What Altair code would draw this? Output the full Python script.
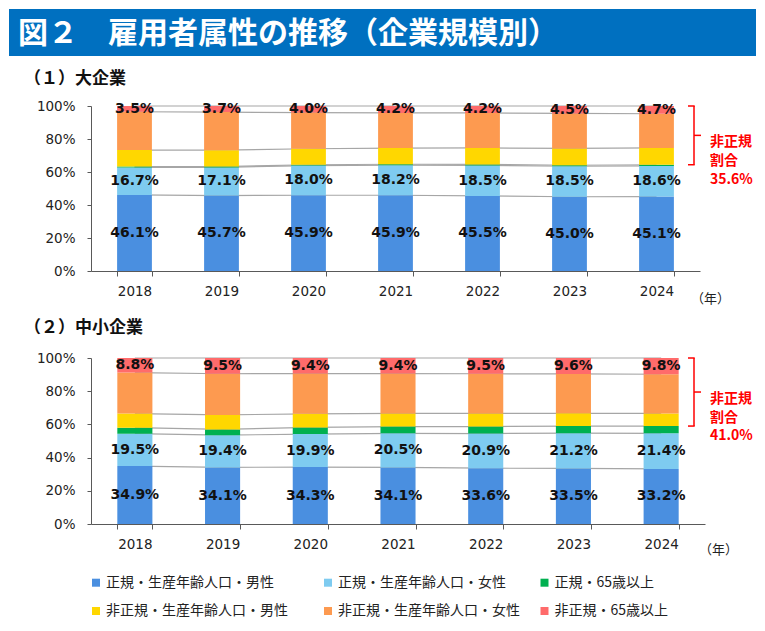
import altair as alt
import pandas as pd

TITLE = "図２　雇用者属性の推移（企業規模別）"
PANEL_TITLES = ["（１）大企業", "（２）中小企業"]
YEAR_UNIT = "（年）"
BRACKET_TEXT = "非正規\n割合"
YEARS = ["2018", "2019", "2020", "2021", "2022", "2023", "2024"]
CATEGORIES = [
    "正規・生産年齢人口・男性",
    "正規・生産年齢人口・女性",
    "正規・65歳以上",
    "非正規・生産年齢人口・男性",
    "非正規・生産年齢人口・女性",
    "非正規・65歳以上",
]
COLORS = ["#4a8fe0", "#7ecbf0", "#00b050", "#ffd700", "#fd9a50", "#ff6b6b"]
LABELED = [CATEGORIES[0], CATEGORIES[1], CATEGORIES[5]]

# (1) 大企業
LARGE_REG_MALE = [46.1, 45.7, 45.9, 45.9, 45.5, 45.0, 45.1]
LARGE_REG_FEMALE = [16.7, 17.1, 18.0, 18.2, 18.5, 18.5, 18.6]
LARGE_REG_65 = [0.5, 0.5, 0.5, 0.6, 0.6, 0.6, 0.7]
LARGE_NONREG_MALE = [10.0, 9.9, 9.7, 9.8, 10.0, 10.2, 10.2]
LARGE_NONREG_FEMALE = [23.2, 23.1, 21.9, 21.3, 21.2, 21.2, 20.7]
LARGE_NONREG_65 = [3.5, 3.7, 4.0, 4.2, 4.2, 4.5, 4.7]
LARGE_NONREG_SHARE = 35.6

# (2) 中小企業
SME_REG_MALE = [34.9, 34.1, 34.3, 34.1, 33.6, 33.5, 33.2]
SME_REG_FEMALE = [19.5, 19.4, 19.9, 20.5, 20.9, 21.2, 21.4]
SME_REG_65 = [3.6, 3.5, 4.0, 4.1, 4.2, 4.3, 4.4]
SME_NONREG_MALE = [8.5, 8.7, 8.2, 7.9, 7.9, 7.7, 7.6]
SME_NONREG_FEMALE = [24.7, 24.8, 24.2, 24.0, 23.9, 23.7, 23.6]
SME_NONREG_65 = [8.8, 9.5, 9.4, 9.4, 9.5, 9.6, 9.8]
SME_NONREG_SHARE = 41.0

RED = "#ff0000"
AXIS_COLOR = "#595959"
JP_FONT = "Noto Sans CJK JP"
NUM_FONT = "DejaVu Sans"


def build_df(series):
    rows = []
    for yi, year in enumerate(YEARS):
        cum = 0.0
        for ci, cat in enumerate(CATEGORIES):
            v = series[ci][yi]
            rows.append({
                "year": year, "category": cat, "order": ci, "value": v,
                "start": cum, "end": cum + v, "mid": cum + v / 2,
                "label": f"{v:.1f}%",
            })
            cum += v
    return pd.DataFrame(rows)


def y_enc(field):
    return alt.Y(
        field,
        scale=alt.Scale(domain=[0, 100], nice=False),
        axis=alt.Axis(
            title=None, values=[0, 20, 40, 60, 80, 100],
            labelExpr="datum.value + '%'", grid=False,
            tickSize=4, labelPadding=12, labelFont=NUM_FONT, labelFontSize=13.5,
            labelColor="#222", domainColor=AXIS_COLOR, tickColor=AXIS_COLOR,
        ),
    )


def x_enc():
    return alt.X(
        "year:N", sort=YEARS,
        scale=alt.Scale(paddingInner=0.6, paddingOuter=0.3),
        axis=alt.Axis(
            title=None, labelAngle=0, tickBand="extent", tickSize=5,
            labelPadding=8, labelFont=NUM_FONT, labelFontSize=13.5,
            labelColor="#222", domainColor=AXIS_COLOR, tickColor=AXIS_COLOR,
        ),
    )


color_enc = alt.Color(
    "category:N", scale=alt.Scale(domain=CATEGORIES, range=COLORS), legend=None
)


def panel(series, share, width, height, unit_x, unit_y):
    df = build_df(series)
    base = alt.Chart(df)
    lines = base.mark_line(color="#a6a6a6", strokeWidth=1.2).encode(
        x=x_enc(), y=y_enc("end:Q"), detail="category:N"
    )
    bars = base.mark_bar().encode(
        x=x_enc(), y=y_enc("start:Q"), y2="end:Q", color=color_enc,
        order=alt.Order("order:Q"),
    )
    labels = base.transform_filter(
        alt.FieldOneOfPredicate(field="category", oneOf=LABELED)
    ).mark_text(
        font=NUM_FONT, fontSize=14, fontWeight="bold", color="#111",
        baseline="middle",
    ).encode(x=x_enc(), y=y_enc("mid:Q"), text="label:N")

    bdf = pd.DataFrame({
        "top": [100.0], "bottom": [100.0 - share],
        "mid": [100.0 - share / 2],
        "text": [BRACKET_TEXT + f"\n{share:.1f}%"],
    })
    bb = alt.Chart(bdf)
    vline = bb.mark_rule(color=RED, strokeWidth=1.5).encode(
        x=alt.value(603), y=y_enc("top:Q"), y2="bottom:Q")
    topline = bb.mark_rule(color=RED, strokeWidth=1.5).encode(
        x=alt.value(597), x2=alt.value(603.7), y=y_enc("top:Q"))
    botline = bb.mark_rule(color=RED, strokeWidth=1.5).encode(
        x=alt.value(597), x2=alt.value(603.7), y=y_enc("bottom:Q"))
    midline = bb.mark_rule(color=RED, strokeWidth=1.5).encode(
        x=alt.value(603), x2=alt.value(610), y=y_enc("mid:Q"))
    btext = bb.mark_text(
        align="left", baseline="middle", lineBreak="\n", lineHeight=18.7,
        dy=7, font=JP_FONT, fontSize=14, fontWeight="bold", color=RED,
    ).encode(x=alt.value(619), y=y_enc("mid:Q"), text="text:N")

    unit = alt.Chart(pd.DataFrame({"u": [YEAR_UNIT]})).mark_text(
        align="left", baseline="middle", font=JP_FONT, fontSize=13, color="#222"
    ).encode(x=alt.value(unit_x), y=alt.value(unit_y), text="u:N")

    return alt.layer(
        lines, bars, labels, vline, topline, botline, midline, btext, unit
    ).properties(width=width, height=height)


header_df = pd.DataFrame({"title": [TITLE], "sub": [PANEL_TITLES[0]]})
hb = alt.Chart(header_df)
banner = hb.mark_rect(color="#0070c0").encode(
    x=alt.value(-82), x2=alt.value(665), y=alt.value(0), y2=alt.value(47))
title_text = hb.mark_text(
    align="left", baseline="middle", font=JP_FONT, fontSize=30,
    fontWeight="bold", color="white",
).encode(x=alt.value(-73), y=alt.value(25), text="title:N")
sub1 = hb.mark_text(
    align="left", baseline="middle", font=JP_FONT, fontSize=17,
    fontWeight="bold", color="#111",
).encode(x=alt.value(-67), y=alt.value(70), text="sub:N")
header = alt.layer(banner, title_text, sub1).properties(width=609, height=97)

spacer = alt.Chart(pd.DataFrame({"sub": [PANEL_TITLES[1]]})).mark_text(
    align="left", baseline="middle", font=JP_FONT, fontSize=17,
    fontWeight="bold", color="#111",
).encode(x=alt.value(-67), y=alt.value(57), text="sub:N").properties(
    width=609, height=87)

p1 = panel(
    [LARGE_REG_MALE, LARGE_REG_FEMALE, LARGE_REG_65,
     LARGE_NONREG_MALE, LARGE_NONREG_FEMALE, LARGE_NONREG_65],
    LARGE_NONREG_SHARE, 609, 165, 600, 193)
p2 = panel(
    [SME_REG_MALE, SME_REG_FEMALE, SME_REG_65,
     SME_NONREG_MALE, SME_NONREG_FEMALE, SME_NONREG_65],
    SME_NONREG_SHARE, 614, 166, 608, 192)

leg_df = pd.DataFrame({
    "category": CATEGORIES,
    "col": [i % 3 for i in range(len(CATEGORIES))],
    "row": [i // 3 for i in range(len(CATEGORIES))],
})
lx = alt.X("col:Q", scale=alt.Scale(domain=[0, 1, 2], range=[5, 237, 453.5],
                                    nice=False, zero=False), axis=None)
ly = alt.Y("row:Q", scale=alt.Scale(domain=[0, 1], range=[58.7, 87],
                                    nice=False, zero=False), axis=None)
lb = alt.Chart(leg_df)
leg_sq = lb.mark_square(size=64, opacity=1).encode(x=lx, y=ly, color=color_enc)
leg_tx = lb.mark_text(
    align="left", baseline="middle", dx=10, font=JP_FONT, fontSize=14,
    color="#222",
).encode(x=lx, y=ly, text="category:N")
legend = alt.layer(leg_sq, leg_tx).properties(width=609, height=100)

chart = alt.vconcat(
    header, p1, spacer, p2, legend, spacing=0, bounds="flush"
).properties(padding=0).configure_view(stroke="transparent")

chart.save("out.html", embed_options={"renderer": "svg", "actions": False})
